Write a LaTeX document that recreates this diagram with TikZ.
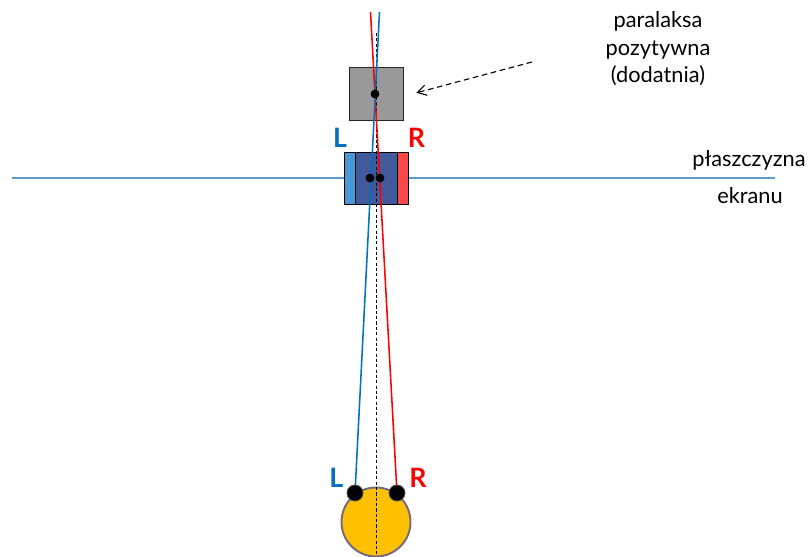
\documentclass[tikz,border=0pt]{standalone}
\usepackage{fontspec}
\setmainfont{Lato}
\usepackage{xcolor}
\usepackage{tikz}
\usetikzlibrary{arrows.meta}

\definecolor{rayblue}{RGB}{0,112,192}
\definecolor{rayred}{RGB}{255,0,0}
\definecolor{screenline}{RGB}{91,155,213}
\definecolor{leftimg}{RGB}{74,152,214}
\definecolor{rightimg}{RGB}{250,72,72}
\definecolor{bothimg}{RGB}{66,90,155}
\definecolor{objgray}{RGB}{153,153,153}
\definecolor{headfill}{RGB}{255,192,0}
\definecolor{headrim}{RGB}{120,106,122}

\begin{document}
\begin{tikzpicture}[
    font=\fontsize{15.5}{19.5}\selectfont,
    every path/.style={line width=0.6pt},
    ray/.style={line width=1.1pt},
    dot/.style={circle, fill=black, inner sep=0pt, minimum size=2.2mm},
    eye/.style={circle, fill=black, draw=black!70, inner sep=0pt, minimum size=4mm},
    imgbox/.style={draw=black, line width=0.5pt},
    side/.style={font=\fontsize{19}{19}\selectfont\bfseries},
    label/.style={align=center}
]

\useasboundingbox (0,0) rectangle (20.2,-13.925);

% ==================== Screen plane ====================
\draw[screenline, line width=1.2pt] (0.3,-4.45) coordinate (scrL) -- (19.375,-4.45) coordinate (scrR);

\filldraw[imgbox, fill=leftimg]  (8.6,-3.8)   rectangle (9.925,-5.1);
\filldraw[imgbox, fill=rightimg] (8.875,-3.8) rectangle (10.2,-5.1);
\filldraw[imgbox, fill=bothimg]  (8.875,-3.8) rectangle (9.925,-5.1);

% ==================== Object behind the screen ====================
\node[draw=black!85, fill=objgray, line width=0.7pt, minimum size=1.33cm, inner sep=0pt]
    (objbox) at (9.41,-2.34) {};
\coordinate (obj) at (9.375,-2.35);

% ==================== Viewer ====================
\node[circle, fill=headfill, draw=headrim, line width=1.4pt, minimum size=1.725cm, inner sep=0pt]
    (head) at (9.4,-13.05) {};

\coordinate (midtop) at (9.4,-0.825);
\coordinate (midbot) at (9.4,-13.925);
\draw[dashed, dash pattern=on 2.2pt off 1.6pt] (midtop) -- (midbot);

% rays from the eyes through the object
\coordinate (redtop)  at (9.2625,-0.3);
\coordinate (bluetop) at (9.4875,-0.3);
\coordinate (eyeLc) at (8.875,-12.325);
\coordinate (eyeRc) at (9.925,-12.325);

\draw[ray, rayred]  (redtop)  -- (eyeRc);
\draw[ray, rayblue] (bluetop) -- (eyeLc);

\node[dot] (pobj) at (obj) {};
\node[dot] (pL) at (9.25,-4.45) {};
\node[dot] (pR) at (9.5,-4.45) {};

\node[eye] (eyeL) at (eyeLc) {};
\node[eye] (eyeR) at (eyeRc) {};

% ==================== Labels ====================
\node[side, text=rayblue] (Ltop) at (8.5,-3.44)   {L};
\node[side, text=rayred]  (Rtop) at (10.41,-3.44) {R};
\node[side, text=rayblue] (Lbot) at (8.41,-11.94) {L};
\node[side, text=rayred]  (Rbot) at (10.45,-11.94) {R};

\node[label] (parallax) at (16.45,-1.22) {paralaksa\\pozytywna\\(dodatnia)};
\node[anchor=base] (plane1) at (18.725,-4.175) {płaszczyzna};
\node[anchor=base] (plane2) at (18.75,-5.1) {ekranu};

\coordinate (arrfrom) at (13.3,-1.55);
\coordinate (arrto)   at (10.41,-2.32);
\draw[dashed, line width=0.8pt, dash pattern=on 4pt off 2.6pt,
      -{Straight Barb[length=2.2mm, width=2.6mm]}] (arrfrom) -- (arrto);

\end{tikzpicture}
\end{document}
